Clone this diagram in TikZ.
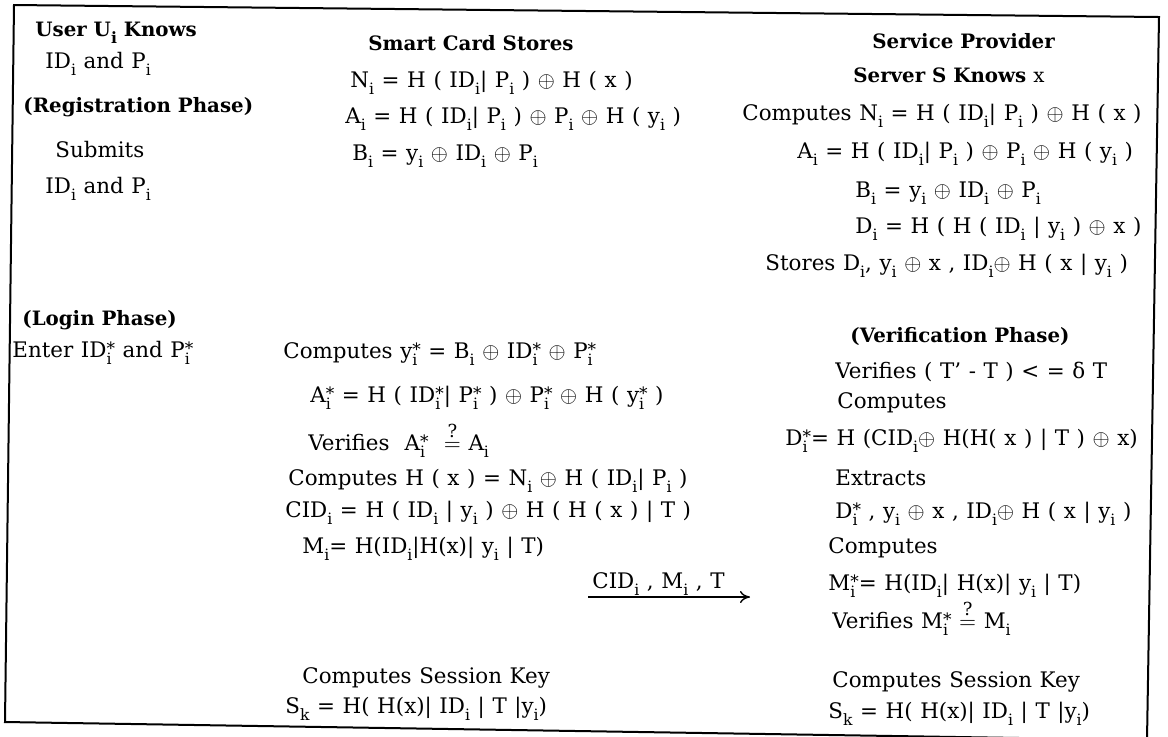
\documentclass[tikz,border=0pt]{standalone}
\usepackage{fontspec}
\setmainfont{DejaVu Serif}
\usetikzlibrary{arrows.meta}
\newcommand\Isub{\raisebox{-3.5pt}{\fontsize{7.8}{8}\selectfont i}}
\newcommand\Ssub[1]{#1\Isub}
\newcommand\Sst[1]{#1\rlap{\Isub}\raisebox{1.5pt}{\fontsize{8.5}{8}\selectfont *}}
\newcommand\Xo{$\oplus$}
\newcommand\Qeq{$\stackrel{\hbox{\fontsize{9}{9}\selectfont ?}}{=}$}
\newcommand\txtfont{\fontsize{10.7}{12}\selectfont\spaceskip=3.8pt plus 1pt minus 0.5pt\relax}
\tikzset{
  txt/.style={anchor=base west, inner sep=0pt, font=\txtfont},
  hd/.style={anchor=base west, inner sep=0pt, font=\fontsize{9.9}{12}\selectfont\bfseries},
  frame/.style={line width=1pt},
  msg/.style={line width=0.7pt, -{To[length=5pt,width=6pt]}}
}
\begin{document}
\begin{tikzpicture}[x=0.5pt,y=-0.5pt]
\useasboundingbox (0,0) rectangle (1168,736);
\clip (0,0) rectangle (1168,736);
\draw[frame] (14,5) -- (1159,17) -- (1147,740) -- (5,722) -- cycle;
% column 1
\node[hd]  (u1) at (35,36)  {User \Ssub{U} Knows};
\node[txt] (u2) at (45,68)  {\Ssub{ID} and \Ssub{P}};
\node[hd]  (u3) at (23,112) {(Registration Phase)};
\node[txt] (u4) at (55,157) {Submits};
\node[txt] (u5) at (45,193) {\Ssub{ID} and \Ssub{P}};
% column 2
\node[hd]  (c1) at (368,50)  {Smart Card Stores};
\node[txt] (c2) at (350,87)  {\Ssub{N} = H ( \Ssub{ID}| \Ssub{P} ) \Xo{} H ( x )};
\node[txt] (c3) at (345,123) {\Ssub{A} = H ( \Ssub{ID}| \Ssub{P} ) \Xo{} \Ssub{P} \Xo{} H ( \Ssub{y} )};
\node[txt] (c4) at (352,160) {\Ssub{B} = \Ssub{y} \Xo{} \Ssub{ID} \Xo{} \Ssub{P}};
% column 3
\node[hd]  (s1) at (872,48)  {Service Provider};
\node[hd]  (s2) at (853,82)  {Server S Knows \mdseries x};
\node[txt] (s3) at (742,120) {Computes \Ssub{N} = H ( \Ssub{ID}| \Ssub{P} ) \Xo{} H ( x )};
\node[txt] (s4) at (797,158) {\Ssub{A} = H ( \Ssub{ID}| \Ssub{P} ) \Xo{} \Ssub{P} \Xo{} H ( \Ssub{y} )};
\node[txt] (s5) at (855,197) {\Ssub{B} = \Ssub{y} \Xo{} \Ssub{ID} \Xo{} \Ssub{P}};
\node[txt] (s6) at (855,233) {\Ssub{D} = H ( H ( \Ssub{ID} | \Ssub{y} ) \Xo{} x )};
\node[txt] (s7) at (765,270) {Stores \Ssub{D}, \Ssub{y} \Xo{} x , \Ssub{ID}\Xo{} H ( x | \Ssub{y} )};
% login
\node[hd]  (l1) at (22,325)  {(Login Phase)};
\node[txt] (l2) at (12,357)  {Enter \Sst{ID} and \Sst{P}};
\node[txt] (l3) at (283,358) {Computes \Sst{y} = \Ssub{B} \Xo{} \Sst{ID} \Xo{} \Sst{P}};
\node[txt] (l4) at (310,402) {\Sst{A} = H ( \Sst{ID}| \Sst{P} ) \Xo{} \Sst{P} \Xo{} H ( \Sst{y} )};
\node[txt] (l5) at (308,450) {Verifies \ \Sst{A} \ \Qeq \ \Ssub{A}};
\node[txt] (l6) at (288,485) {Computes H ( x ) = \Ssub{N} \Xo{} H ( \Ssub{ID}| \Ssub{P} )};
\node[txt] (l7) at (285,517) {\Ssub{CID} = H ( \Ssub{ID} | \Ssub{y} ) \Xo{} H ( H ( x ) | T )};
\node[txt] (l8) at (302,553) {\Ssub{M}= H(\Ssub{ID}|H(x)| \Ssub{y} | T)};
\node[txt] (l9) at (302,683) {Computes Session Key};
\node[txt] (l10) at (285,713) {S\raisebox{-3.5pt}{\fontsize{7.8}{8}\selectfont k} = H( H(x)| \Ssub{ID} | T |\Ssub{y})};
% message
\coordinate (a1) at (588,597);
\coordinate (a2) at (750,597);
\draw[msg] (a1) -- (a2);
\node[txt] (ml) at (592,588) {\Ssub{CID} , \Ssub{M} , T};
% verification
\node[hd]  (v1) at (850,342) {(Verification Phase)};
\node[txt] (v2) at (835,378) {Verifies ( T' - T ) < = δ T};
\node[txt] (v3) at (837,408) {Computes};
\node[txt] (v4) at (785,445) {\Sst{D}= H (\Ssub{CID}\Xo{} H(H( x ) | T ) \Xo{} x)};
\node[txt] (v5) at (835,485) {Extracts};
\node[txt] (v6) at (835,518) {\Sst{D} , \Ssub{y} \Xo{} x , \Ssub{ID}\Xo{} H ( x | \Ssub{y} )};
\node[txt] (v7) at (828,553) {Computes};
\node[txt] (v8) at (828,590) {\Sst{M}= H(\Ssub{ID}| H(x)| \Ssub{y} | T)};
\node[txt] (v9) at (832,628) {Verifies \Sst{M} \Qeq{} \Ssub{M}};
\node[txt] (v10) at (832,687) {Computes Session Key};
\node[txt] (v11) at (828,718) {S\raisebox{-3.5pt}{\fontsize{7.8}{8}\selectfont k} = H( H(x)| \Ssub{ID} | T |\Ssub{y})};
\end{tikzpicture}
\end{document}
